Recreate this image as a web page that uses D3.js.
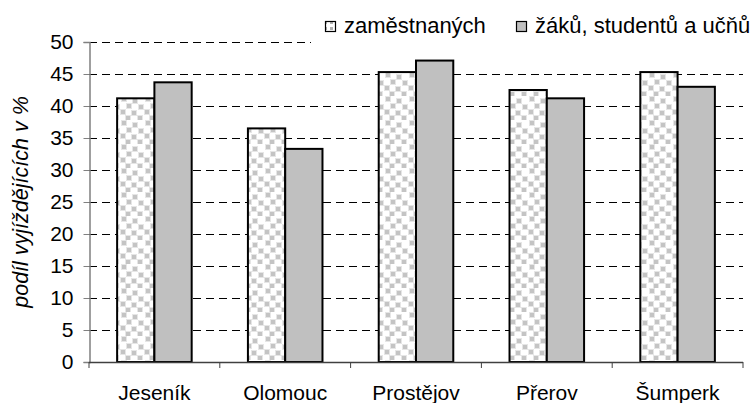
<!DOCTYPE html>
<html><head><meta charset="utf-8">
<script src="https://cdn.jsdelivr.net/npm/d3@7"></script>
<style>body{margin:0;background:#fff}svg{display:block}text{font-family:"Liberation Sans",Arial,sans-serif}</style>
</head><body>
<script>
const categories = ["Jeseník","Olomouc","Prostějov","Přerov","Šumperk"];
const seriesNames = ["zaměstnaných","žáků, studentů a učňů"];
const employed = [41.2, 36.5, 45.3, 42.5, 45.3];
const students = [43.7, 33.3, 47.1, 41.2, 43.0];
const yTicks = [0,5,10,15,20,25,30,35,40,45,50];
const yTitle = "podíl vyjíždějících v %";

(function(){
const W=752,H=403;
const FS=21;
const svg=d3.select("body").append("svg").attr("width",W).attr("height",H);
const defs=svg.append("defs");
const pat=defs.append("pattern").attr("id","dots").attr("patternUnits","userSpaceOnUse")
  .attr("width",24).attr("height",24);
pat.append("rect").attr("width",24).attr("height",24).attr("fill","#fff");
[[2,1],[13,3],[7,8],[19,9],[1,14],[12,15],[6,20],[18,20]].forEach(([x,y])=>{
  pat.append("rect").attr("x",x-1).attr("y",y-1).attr("width",6).attr("height",6).attr("fill","#e6e6e6");
  pat.append("rect").attr("x",x).attr("y",y).attr("width",4).attr("height",4).attr("fill","#c4c4c4");
});
const patS=defs.append("pattern").attr("id","dotsS").attr("patternUnits","userSpaceOnUse")
  .attr("width",6).attr("height",6);
patS.append("rect").attr("width",6).attr("height",6).attr("fill","#fff");
patS.append("rect").attr("x",0).attr("y",3).attr("width",3).attr("height",3).attr("fill","#b0b0b0");

const mL=89,mR=743,mT=42,mB=362;
const y=d3.scaleLinear().domain([0,50]).range([mB,mT]);
const x0=d3.scaleBand().domain(categories).range([mL,mR]).padding(0);
const gw=x0.bandwidth()*0.57;
const x1=d3.scaleBand().domain(seriesNames).range([0,gw]);
const off=(x0.bandwidth()-gw)/2;

// gridlines
svg.append("g").selectAll("line").data(yTicks.filter(d=>d>0)).join("line")
  .attr("x1",mL).attr("x2",mR).attr("y1",d=>Math.round(y(d))+0.5).attr("y2",d=>Math.round(y(d))+0.5)
  .attr("stroke","#000").attr("stroke-width",1).attr("stroke-dasharray","8,5");

// bars
const fills=["url(#dots)","#c0c0c0"];
const data=categories.map((c,i)=>({c,v:[employed[i],students[i]]}));
const g=svg.append("g");
data.forEach(d=>{
  d.v.forEach((v,j)=>{
    g.append("rect").attr("x",x0(d.c)+off+x1(seriesNames[j])).attr("y",y(v))
      .attr("width",x1.bandwidth()).attr("height",y(0)-y(v))
      .attr("fill",fills[j]).attr("stroke","#000").attr("stroke-width",2);
  });
});

// y axis
const ya=svg.append("g").attr("transform",`translate(${mL+0.5},0)`)
  .call(d3.axisLeft(y).tickValues(yTicks).tickSize(6).tickPadding(10));
ya.select(".domain").attr("stroke","#808080").attr("stroke-width",1.5);
ya.selectAll(".tick line").attr("stroke","#808080");
ya.selectAll("text").attr("font-size",FS).attr("fill","#000").style("font-family","Liberation Sans, Arial, sans-serif");

// x axis
const xa=svg.append("g").attr("transform",`translate(0,${mB+0.5})`)
  .call(d3.axisBottom(x0).tickSize(0).tickPadding(0));
xa.select(".domain").remove();
xa.selectAll("text").attr("font-size",FS).attr("fill","#000").attr("dy",0).attr("y",37)
  .style("font-family","Liberation Sans, Arial, sans-serif");
svg.append("line").attr("x1",mL).attr("x2",mR).attr("y1",mB+0.5).attr("y2",mB+0.5)
  .attr("stroke","#404040").attr("stroke-width",1.5);
svg.append("g").selectAll("line").data(categories.map(c=>x0(c)).concat([mR])).join("line")
  .attr("x1",d=>d).attr("x2",d=>d).attr("y1",mB).attr("y2",mB+6).attr("stroke","#404040");

// y title
svg.append("text").attr("transform",`translate(28,${(mT+mB)/2}) rotate(-90)`)
  .attr("text-anchor","middle").attr("font-size",21.5).attr("font-style","italic").text(yTitle);

// legend
const lg=svg.append("g");
lg.append("rect").attr("x",311).attr("y",8).attr("width",441).attr("height",40).attr("fill","#fff");
const lx=[325,516];
seriesNames.forEach((n,i)=>{
  lg.append("rect").attr("x",lx[i]+0.5).attr("y",21.5).attr("width",10).attr("height",10)
    .attr("fill",i===0?"url(#dotsS)":"#c0c0c0").attr("stroke","#000").attr("stroke-width",1.2);
  lg.append("text").attr("x",lx[i]+19).attr("y",33).attr("font-size",22).text(n);
});
})();
</script>
</body></html>
